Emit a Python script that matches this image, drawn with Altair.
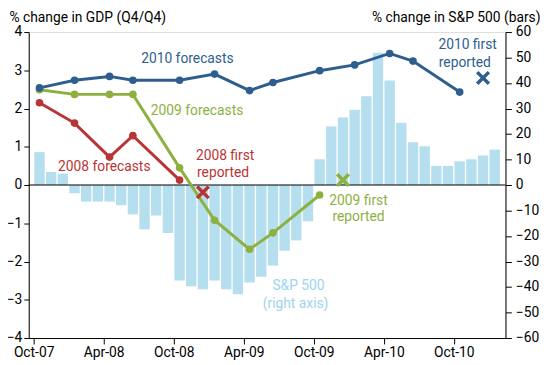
import altair as alt
import pandas as pd

# ---------------- data ----------------
months = ["Oct-07", "Nov-07", "Dec-07", "Jan-08", "Feb-08", "Mar-08", "Apr-08", "May-08",
          "Jun-08", "Jul-08", "Aug-08", "Sep-08", "Oct-08", "Nov-08", "Dec-08", "Jan-09",
          "Feb-09", "Mar-09", "Apr-09", "May-09", "Jun-09", "Jul-09", "Aug-09", "Sep-09",
          "Oct-09", "Nov-09", "Dec-09", "Jan-10", "Feb-10", "Mar-10", "Apr-10", "May-10",
          "Jun-10", "Jul-10", "Aug-10", "Sep-10", "Oct-10", "Nov-10", "Dec-10", "Jan-11"]

sp500 = [12.9, 5.1, 4.5, -3.2, -6.5, -6.5, -6.5, -7.9, -11.5, -17.4, -11.9, -18.8,
         -37.4, -39.7, -40.9, -37.4, -40.9, -42.8, -38.2, -36.0, -31.6, -25.8, -21.7, -14.2,
         10.1, 23.0, 26.5, 29.5, 34.8, 51.9, 41.0, 24.4, 16.8, 15.2, 7.5, 7.5,
         9.3, 10.1, 11.6, 13.9]

forecast_dates = ["Oct-07", "Jan-08", "Apr-08", "Jun-08", "Oct-08", "Jan-09", "Apr-09",
                  "Jun-09", "Oct-09", "Jan-10", "Apr-10", "Jun-10", "Oct-10"]
f2010 = [2.54, 2.74, 2.84, 2.74, 2.74, 2.90, 2.47, 2.68, 2.99, 3.14, 3.44, 3.24, 2.43]
f2009 = [2.49, 2.37, 2.37, 2.37, 0.45, -0.92, -1.68, -1.25, -0.26]
f2008 = [2.15, 1.62, 0.73, 1.29, 0.13]

first_series = ["2008", "2009", "2010"]
first_dates = ["Dec-08", "Dec-09", "Dec-10"]
first_values = [-0.19, 0.13, 2.80]

tick_labels = ["Oct-07", "Apr-08", "Oct-08", "Apr-09", "Oct-09", "Apr-10", "Oct-10"]

series_names = ["2008", "2009", "2010", "sp"]
series_colors = ["#B93434", "#8DB03F", "#2E5E8E", "#9ED4EC"]
bar_color = "#B5DEEE"

# annotation labels: series, text line, month position, gdp value
ann_series = ["2010", "2009", "2008", "2008", "2008", "2009", "2009", "2010", "2010",
              "sp", "sp"]
ann_text = ["2010 forecasts", "2009 forecasts", "2008 forecasts", "2008 first", "reported",
            "2009 first", "reported", "2010 first", "reported", "S&P 500", "(right axis)"]
ann_x = [13.17, 14.0, 6.05, 16.4, 16.23, 27.83, 27.83, 37.18, 36.94, 22.69, 22.44]
ann_y = [3.30, 1.94, 0.46, 0.77, 0.31, -0.41, -0.85, 3.66, 3.20, -2.63, -3.10]

# ---------------- tables ----------------
def mpos(label):
    return months.index(label) + 0.5

bar_df = pd.DataFrame({"x": [i + 0.5 for i in range(len(months))], "sp": sp500})

rows = []
for name, vals in [("2008", f2008), ("2009", f2009), ("2010", f2010)]:
    for d, v in zip(forecast_dates, vals):
        rows.append({"series": name, "x": mpos(d), "y": v})
line_df = pd.DataFrame(rows)

first_df = pd.DataFrame({"series": first_series,
                         "x": [mpos(d) for d in first_dates],
                         "y": first_values})
ann_df = pd.DataFrame({"series": ann_series, "text": ann_text, "x": ann_x, "y": ann_y})
zero_df = pd.DataFrame({"y": [0]})

# ---------------- encodings ----------------
FONT = "Roboto"
tick_vals = [months.index(t) for t in tick_labels]
label_expr = "[" + ",".join(f"'{t}'" for t in tick_labels) + "][indexof([" + \
    ",".join(str(v) for v in tick_vals) + "], datum.value)]"

X = alt.X("x:Q", scale=alt.Scale(domain=[0, len(months)], nice=False, zero=False),
          axis=alt.Axis(values=tick_vals, labelExpr=label_expr, title=None, grid=False,
                        tickSize=6, labelFontSize=14, labelFont=FONT, labelColor="black",
                        domainColor="black", tickColor="black", labelPadding=2,
                        labelFlush=False))

Y = alt.Y("y:Q", scale=alt.Scale(domain=[-4, 4], nice=False),
          axis=alt.Axis(orient="left", values=list(range(-4, 5)), grid=False,
                        title="% change in GDP (Q4/Q4)", titleAngle=0, titleAlign="left",
                        titleX=-20, titleY=-11, titleBaseline="alphabetic",
                        titleFontSize=14, titleFont=FONT, titleFontWeight="normal",
                        titleColor="black", tickSize=5, labelFontSize=14, labelFont=FONT,
                        labelColor="black", domainColor="black", tickColor="black",
                        labelPadding=2))

Y2 = alt.Y("sp:Q", scale=alt.Scale(domain=[-60, 60], nice=False),
           axis=alt.Axis(orient="right", values=list(range(-60, 61, 10)), grid=False,
                         title="% change in S&P 500 (bars)", titleAngle=0, titleAlign="right",
                         titleX=35, titleY=-11, titleBaseline="alphabetic",
                         titleFontSize=14, titleFont=FONT, titleFontWeight="normal",
                         titleColor="black", tickSize=6, labelFontSize=14, labelFont=FONT,
                         labelColor="black", domainColor="black", tickColor="black",
                         labelPadding=4))

C = alt.Color("series:N", scale=alt.Scale(domain=series_names, range=series_colors),
              legend=None)

# ---------------- layers ----------------
bars = alt.Chart(bar_df).mark_bar(width=10.5, color=bar_color).encode(x=X, y=Y2)

zero = alt.Chart(zero_df).mark_rule(color="black", strokeWidth=1.2).encode(y=Y)

lines = alt.Chart(line_df).mark_line(strokeWidth=3).encode(x=X, y=Y, color=C,
                                                            detail="series:N")
points = alt.Chart(line_df).mark_point(filled=True, size=60, opacity=1).encode(
    x=X, y=Y, color=C)

crosses = alt.Chart(first_df).mark_point(
    shape="M-1,-1L1,1M-1,1L1,-1", filled=False, size=140, strokeWidth=3.5, opacity=1
).encode(x=X, y=Y, color=C)

texts = alt.Chart(ann_df).mark_text(
    fontSize=14, font=FONT, align="center", baseline="middle"
).encode(x=X, y=Y, text="text:N", color=C)

gdp = alt.layer(zero, lines, points, crosses, texts)

chart = alt.layer(bars, gdp).resolve_scale(y="independent").properties(
    width=483, height=310,
    padding={"left": 21, "top": 22, "right": 37, "bottom": 27},
    autosize=alt.AutoSizeParams(type="none"),
).configure_view(stroke=None).configure(background="white")

chart.save("out.html", embed_options={"renderer": "svg", "actions": False})
